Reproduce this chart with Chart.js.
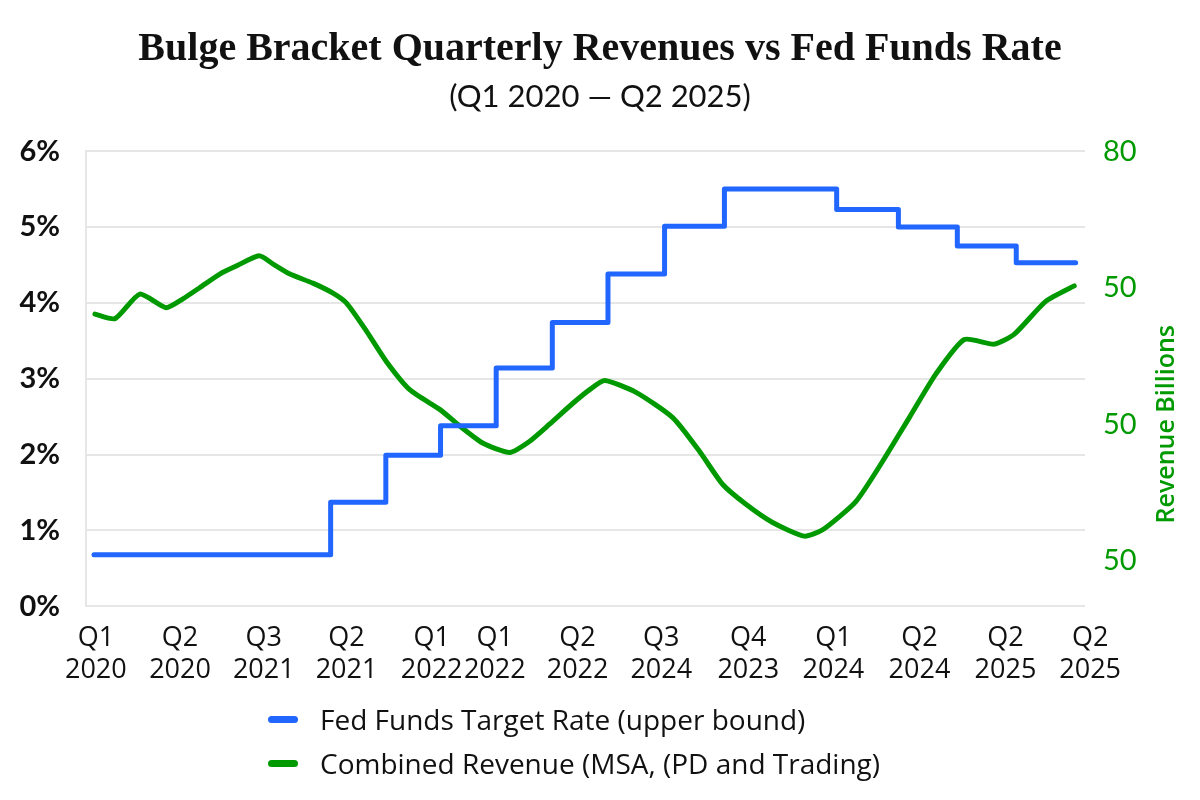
<!DOCTYPE html>
<html>
<head>
<meta charset="utf-8">
<script src="https://cdn.jsdelivr.net/npm/chart.js@4.4.1/dist/chart.umd.min.js"></script>
<style>
  html, body { margin: 0; padding: 0; background: #ffffff; }
  #wrap { position: relative; width: 1200px; height: 800px; }
  #chart { position: absolute; left: 0; top: 0; }
  #legend { position: absolute; left: 268px; top: 697px; font-family: "Open Sans", sans-serif; font-size: 28px; color: #111; }
  .item { display: flex; align-items: center; height: 44px; }
  .swatch { width: 30px; height: 7px; border-radius: 4px; margin-right: 22px; }
</style>
</head>
<body>
<div id="wrap">
  <canvas id="chart" width="1200" height="800"></canvas>
  <div id="legend"></div>
</div>
<script>
// ---- Data ----
const titleText = 'Bulge Bracket Quarterly Revenues vs Fed Funds Rate';
const subtitleText = '(Q1 2020 \u2014 Q2 2025)';

// x positions are in quarter units (0 = Q1 2020, 21 = Q2 2025)
const xTickValues = [0.04, 1.84, 3.63, 5.40, 7.22, 8.57, 10.34, 12.13, 13.99, 15.81, 17.65, 19.49, 21.30];
const xTickLabels = [
  ['Q1', '2020'], ['Q2', '2020'], ['Q3', '2021'], ['Q2', '2021'], ['Q1', '2022'], ['Q1', '2022'],
  ['Q2', '2022'], ['Q3', '2024'], ['Q4', '2023'], ['Q1', '2024'], ['Q2', '2024'], ['Q2', '2025'], ['Q2', '2025']
];

const rateLabel = 'Fed Funds Target Rate (upper bound)';
const rateX = [0, 5.06, 6.24, 7.41, 8.60, 9.80, 10.99, 12.20, 13.48, 15.88, 17.20, 18.46, 19.72, 20.99];
const rateValues = [0.68, 1.37, 1.99, 2.38, 3.14, 3.74, 4.38, 5.01, 5.50, 5.23, 5.00, 4.75, 4.53, 4.53];

const revenueLabel = 'Combined Revenue (MSA, (PD and Trading)';
const revenueX = [0.02, 0.45, 0.98, 1.54, 1.91, 2.26, 2.69, 3.05, 3.53, 3.83, 4.19, 4.68, 5.11, 5.40, 5.83, 6.25,
  6.75, 7.40, 7.82, 8.32, 8.89, 9.31, 9.74, 10.24, 10.60, 10.92, 11.59, 12.38, 12.95, 13.44, 13.94, 14.51,
  15.19, 15.58, 16.29, 16.86, 17.43, 18.00, 18.61, 19.25, 19.68, 20.35, 20.96];
const revenueValues = [62.1, 61.6, 64.3, 62.8, 63.8, 65.0, 66.5, 67.4, 68.5, 67.6, 66.5, 65.5, 64.4, 63.3, 60.2, 56.9,
  53.8, 51.6, 49.8, 47.9, 46.9, 48.1, 50.0, 52.3, 53.8, 54.8, 53.5, 50.7, 47.0, 43.4, 41.2, 39.2,
  37.7, 38.4, 41.5, 45.9, 50.7, 55.5, 59.3, 58.8, 59.9, 63.5, 65.2];

const leftTickValues = [0, 1, 2, 3, 4, 5, 6];
const rightTickValues = [35, 50, 65, 80];
const rightTickLabels = ['50', '50', '50', '80'];
const rightAxisTitle = 'Revenue Billions';

// ---- Styles ----
const BLUE = '#2166ff';
const GREEN = '#009a00';
const GRID = '#e6e6e6';

const rightTitlePlugin = {
  id: 'rightTitle',
  afterDraw(chart) {
    const s = chart.scales.y1;
    const a = chart.chartArea;
    const ctx = chart.ctx;
    ctx.save();
    ctx.translate(s.right - 33, a.top + (a.bottom - a.top) * 0.6);
    ctx.rotate(-Math.PI / 2);
    ctx.fillStyle = GREEN;
    ctx.font = '600 25px "Open Sans", sans-serif';
    ctx.textAlign = 'center';
    ctx.textBaseline = 'middle';
    ctx.fillText(rightAxisTitle, 0, 0);
    ctx.restore();
  }
};

const chart = new Chart(document.getElementById('chart'), {
  type: 'line',
  data: {
    datasets: [
      {
        label: rateLabel,
        data: rateX.map((x, i) => ({ x: x, y: rateValues[i] })),
        borderColor: BLUE,
        backgroundColor: BLUE,
        borderWidth: 5,
        stepped: true,
        pointRadius: 0,
        borderCapStyle: 'round',
        borderJoinStyle: 'round',
        yAxisID: 'y'
      },
      {
        label: revenueLabel,
        data: revenueX.map((x, i) => ({ x: x, y: revenueValues[i] })),
        borderColor: GREEN,
        backgroundColor: GREEN,
        borderWidth: 5,
        tension: 0.2,
        pointRadius: 0,
        borderCapStyle: 'round',
        borderJoinStyle: 'round',
        yAxisID: 'y1'
      }
    ]
  },
  options: {
    responsive: false,
    animation: false,
    layout: { padding: { left: 0, right: 0, top: 0, bottom: 105 } },
    plugins: {
      legend: { display: false },
      tooltip: { enabled: false },
      title: {
        display: true,
        text: titleText,
        color: '#111',
        font: { family: '"Liberation Serif", serif', size: 40, weight: 'bold' },
        padding: { top: 26, bottom: 4 }
      },
      subtitle: {
        display: true,
        text: subtitleText,
        color: '#111',
        font: { family: 'Lato, sans-serif', size: 31, weight: 'normal' },
        padding: { top: 0, bottom: 36 }
      }
    },
    scales: {
      x: {
        type: 'linear',
        min: -0.171,
        max: 21.19,
        grid: { display: false },
        border: { display: false },
        afterBuildTicks: s => { s.ticks = xTickValues.map(v => ({ value: v })); },
        ticks: {
          autoSkip: false,
          maxRotation: 0,
          minRotation: 0,
          padding: 8,
          color: '#111',
          font: { family: '"Open Sans", sans-serif', size: 27 },
          callback: (v, i) => xTickLabels[i]
        }
      },
      y: {
        position: 'left',
        min: 0,
        max: 6,
        afterBuildTicks: s => { s.ticks = leftTickValues.map(v => ({ value: v })); },
        afterFit: s => { s.width = 86; },
        grid: { color: GRID, lineWidth: 2, drawTicks: false },
        border: { display: true, color: GRID, width: 2 },
        ticks: {
          padding: 26,
          color: '#111',
          font: { family: 'Lato, sans-serif', size: 29, weight: 'bold' },
          callback: v => v + '%'
        }
      },
      y1: {
        position: 'right',
        min: 30,
        max: 80,
        afterBuildTicks: s => { s.ticks = rightTickValues.map(v => ({ value: v })); },
        afterFit: s => { s.width = 115; },
        grid: { display: false, drawTicks: false },
        border: { display: false },
        ticks: {
          padding: 18,
          color: GREEN,
          font: { family: 'Lato, sans-serif', size: 29 },
          callback: (v, i) => rightTickLabels[i]
        }
      }
    }
  },
  plugins: [rightTitlePlugin]
});

// HTML legend built from the chart's datasets
const legendEl = document.getElementById('legend');
chart.data.datasets.forEach(ds => {
  const row = document.createElement('div');
  row.className = 'item';
  const sw = document.createElement('span');
  sw.className = 'swatch';
  sw.style.background = ds.borderColor;
  const tx = document.createElement('span');
  tx.textContent = ds.label;
  row.appendChild(sw);
  row.appendChild(tx);
  legendEl.appendChild(row);
});
</script>
</body>
</html>
